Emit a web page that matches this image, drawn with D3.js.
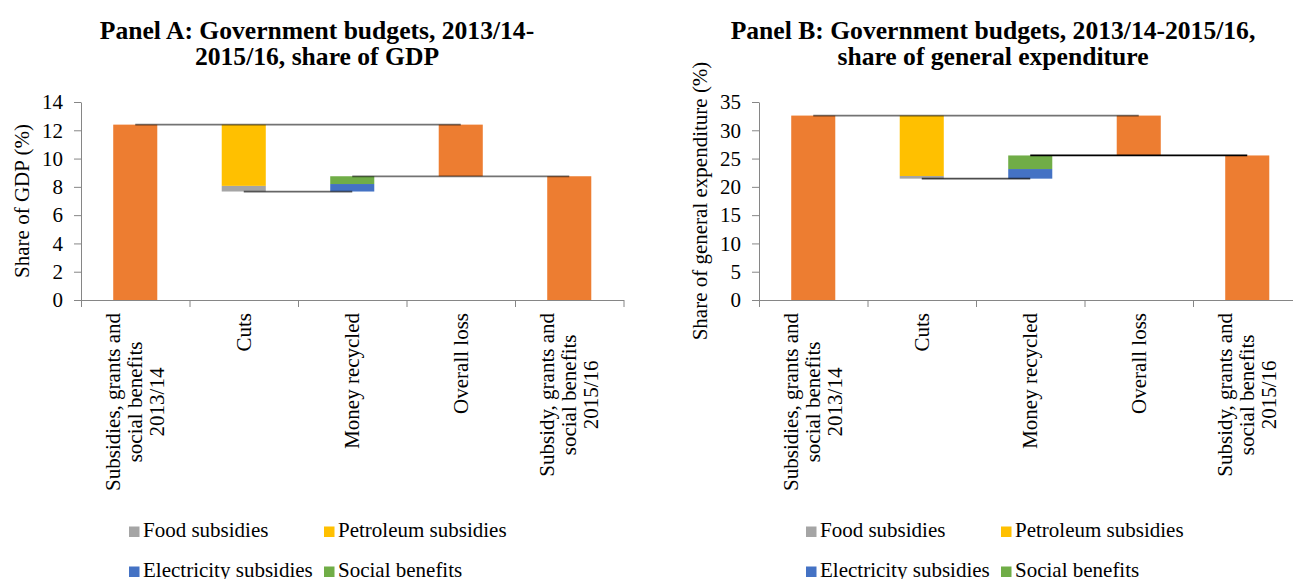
<!DOCTYPE html>
<html>
<head>
<meta charset="utf-8">
<script src="https://cdn.jsdelivr.net/npm/d3@7"></script>
<style>
  html, body { margin: 0; padding: 0; background: #fff; }
  svg { display: block; }
</style>
</head>
<body>
<svg id="chart" width="1293" height="579"></svg>
<script>
// ---------------- DATA ----------------
const categories = [
  ["Subsidies,  grants and", "social benefits", "2013/14"],
  ["Cuts"],
  ["Money recycled"],
  ["Overall loss"],
  ["Subsidy,  grants and", "social benefits", "2015/16"]
];
const seriesNames = ["Food subsidies", "Petroleum subsidies", "Electricity subsidies", "Social benefits"];
const seriesColors = ["#A5A5A5", "#FFC000", "#4472C4", "#70AD47"];
const totalColor = "#ED7D31";

// Panel A: share of GDP (%)
const baseA        = [0, 7.67, 7.67, 8.75, 0];
const totalA       = [12.4, 0, 0, 3.65, 8.75];
const foodA        = [0, 0.40, 0, 0, 0];
const petroleumA   = [0, 4.33, 0, 0, 0];
const electricityA = [0, 0, 0.53, 0, 0];
const socialA      = [0, 0, 0.55, 0, 0];
const connectorsA  = [[0, 3, 12.4], [1, 2, 7.67], [2, 4, 8.75]];
const yTicksA      = [0, 2, 4, 6, 8, 10, 12, 14];

// Panel B: share of general expenditure (%)
const baseB        = [0, 21.45, 21.45, 25.55, 0];
const totalB       = [32.6, 0, 0, 7.05, 25.55];
const foodB        = [0, 0.47, 0, 0, 0];
const petroleumB   = [0, 10.68, 0, 0, 0];
const electricityB = [0, 0, 1.7, 0, 0];
const socialB      = [0, 0, 2.4, 0, 0];
const connectorsB  = [[0, 3, 32.6], [1, 2, 21.45], [2, 4, 25.55]];
const yTicksB      = [0, 5, 10, 15, 20, 25, 30, 35];

// ---------------- DRAW ----------------
const FONT = '"Liberation Serif", "Times New Roman", serif';
const svg = d3.select("#chart");

function drawPanel(p) {
  const g = svg.append("g");
  const keys = ["base", "total", "food", "petroleum", "electricity", "social"];
  const rows = categories.map((c, i) => ({
    idx: i,
    base: p.base[i], total: p.total[i], food: p.food[i],
    petroleum: p.petroleum[i], electricity: p.electricity[i], social: p.social[i]
  }));
  const stacked = d3.stack().keys(keys)(rows);
  const colorOf = {
    base: "none", total: totalColor, food: seriesColors[0], petroleum: seriesColors[1],
    electricity: seriesColors[2], social: seriesColors[3]
  };

  const x = d3.scaleBand().domain(d3.range(categories.length))
    .range([p.x0, p.x1]).paddingInner(0.594).paddingOuter(0.297);
  const xEdge = d3.scaleLinear().domain([0, categories.length]).range([p.x0, p.x1]);
  const y = d3.scaleLinear().domain([0, p.yMax]).range([p.yBottom, p.yTop]);

  // bars
  stacked.forEach(layer => {
    if (layer.key === "base") return;
    g.append("g").selectAll("rect").data(layer.filter(d => d[1] - d[0] > 0)).join("rect")
      .attr("x", d => x(d.data.idx))
      .attr("width", x.bandwidth())
      .attr("y", d => y(d[1]))
      .attr("height", d => y(d[0]) - y(d[1]))
      .attr("fill", colorOf[layer.key]);
  });

  // connectors
  g.append("g").selectAll("line").data(p.connectors).join("line")
    .attr("x1", d => x(d[0]) + x.bandwidth() / 2)
    .attr("x2", d => x(d[1]) + x.bandwidth() / 2)
    .attr("y1", d => y(d[2]))
    .attr("y2", d => y(d[2]))
    .attr("stroke", "#000")
    .attr("stroke-opacity", (d, i) => p.connOpacity[i])
    .attr("stroke-width", 1.75);

  // y axis
  const ya = g.append("g").attr("transform", `translate(${p.x0},0)`)
    .call(d3.axisLeft(y).tickValues(p.yTicks).tickSize(7).tickSizeOuter(0).tickPadding(11));
  ya.select(".domain").attr("stroke", "#868686");
  ya.selectAll(".tick line").attr("stroke", "#868686");
  ya.selectAll(".tick text").attr("font-family", FONT).attr("font-size", 21).attr("fill", "#000");

  // x axis
  const xa = g.append("g").attr("transform", `translate(0,${p.yBottom})`)
    .call(d3.axisBottom(xEdge).tickValues(d3.range(categories.length + 1)).tickFormat("").tickSize(7).tickSizeOuter(0));
  xa.select(".domain").attr("stroke", "#868686");
  xa.selectAll(".tick line").attr("stroke", "#868686");

  // category labels (rotated, centered lines)
  categories.forEach((lines, i) => {
    const cx = x(i) + x.bandwidth() / 2;
    const lg = g.append("g").attr("transform", `translate(${cx},${p.labelTop}) rotate(-90)`);
    const texts = lines.map((t, j) => lg.append("text")
      .attr("font-family", FONT).attr("font-size", 21).attr("fill", "#000")
      .attr("text-anchor", "middle")
      .attr("y", (j - (lines.length - 1) / 2) * 22 + 7)
      .text(t));
    const maxLen = d3.max(texts, t => t.node().getComputedTextLength());
    texts.forEach(t => t.attr("x", -maxLen / 2));
  });

  // y axis title
  g.append("text")
    .attr("transform", `translate(${p.x0 - 52},${(p.yTop + p.yBottom) / 2}) rotate(-90)`)
    .attr("text-anchor", "middle")
    .attr("font-family", FONT).attr("font-size", 21).attr("fill", "#000")
    .text(p.yTitle);

  // title
  p.title.forEach((t, j) => g.append("text")
    .attr("x", p.titleX).attr("y", 39 + j * 26)
    .attr("text-anchor", "middle")
    .attr("font-family", FONT).attr("font-size", 25.6).attr("font-weight", "bold").attr("fill", "#000")
    .text(t));

  // legend
  seriesNames.forEach((name, i) => {
    const col = i % 2, row = Math.floor(i / 2);
    const lx = p.legendX + col * 195, ly = 537 + row * 40;
    g.append("rect").attr("x", lx).attr("y", ly - 10.5).attr("width", 10.5).attr("height", 10.5)
      .attr("fill", seriesColors[i]);
    g.append("text").attr("x", lx + 14).attr("y", ly)
      .attr("font-family", FONT).attr("font-size", 21).attr("fill", "#000")
      .text(name);
  });
}

drawPanel({
  base: baseA, total: totalA, food: foodA, petroleum: petroleumA,
  electricity: electricityA, social: socialA, connectors: connectorsA,
  connOpacity: [0.55, 0.6, 0.55],
  yTicks: yTicksA, yMax: 14,
  x0: 81, x1: 623.5, yTop: 102, yBottom: 300, labelTop: 313,
  yTitle: "Share of GDP (%)",
  title: ["Panel A: Government budgets, 2013/14-", "2015/16, share of GDP"],
  titleX: 317, legendX: 129
});

drawPanel({
  base: baseB, total: totalB, food: foodB, petroleum: petroleumB,
  electricity: electricityB, social: socialB, connectors: connectorsB,
  connOpacity: [0.55, 0.7, 1],
  yTicks: yTicksB, yMax: 35,
  x0: 759, x1: 1301.5, yTop: 102, yBottom: 300, labelTop: 313,
  yTitle: "Share of general expenditure (%)",
  title: ["Panel B: Government budgets, 2013/14-2015/16,", "share of general expenditure"],
  titleX: 993, legendX: 806
});
</script>
</body>
</html>
